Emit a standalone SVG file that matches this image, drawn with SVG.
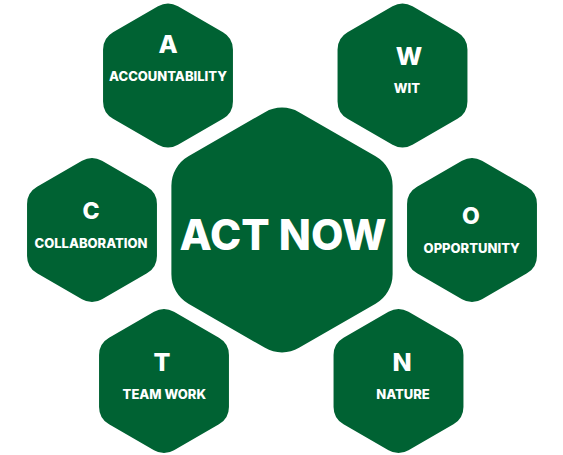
<svg xmlns="http://www.w3.org/2000/svg" width="563" height="455" viewBox="0 0 563 455">
<style>
.hex{fill:#006233}
.t{fill:#ffffff;font-family:Inter,"Open Sans","Liberation Sans",sans-serif;font-weight:800;text-anchor:middle}
.big{font-size:25px}
.lbl{font-size:13px}
.main{font-size:42px}
</style>
<defs>
<path id="hx" d="M-10,-69.2 A20,20 0 0 1 10,-69.2 L54.95,-43.27 A20,20 0 0 1 64.95,-25.95 L64.95,25.95 A20,20 0 0 1 54.95,43.27 L10,69.2 A20,20 0 0 1 -10,69.2 L-54.95,43.27 A20,20 0 0 1 -64.95,25.95 L-64.95,-25.95 A20,20 0 0 1 -54.95,-43.27 Z"/>
</defs>
<rect width="563" height="455" fill="#ffffff"/>
<g id="node-center">
<use href="#hx" class="hex" transform="translate(282,230) scale(1.703)"/>
<text class="t main" x="283" y="250">ACT NOW</text>
</g>
<g id="node-a">
<use href="#hx" class="hex" transform="translate(168,75.5)"/>
<text class="t big" x="168" y="53.3">A</text>
<text class="t lbl" x="168" y="81">ACCOUNTABILITY</text>
</g>
<g id="node-w">
<use href="#hx" class="hex" transform="translate(402.5,75.5)"/>
<text class="t big" x="409" y="65">W</text>
<text class="t lbl" x="407" y="93.3">WIT</text>
</g>
<g id="node-c">
<use href="#hx" class="hex" transform="translate(92,230)"/>
<text class="t" style="font-size:23px" x="91" y="219">C</text>
<text class="t lbl" x="91" y="247.7">COLLABORATION</text>
</g>
<g id="node-o">
<use href="#hx" class="hex" transform="translate(472,230)"/>
<text class="t" style="font-size:23px" x="471" y="224">O</text>
<text class="t lbl" x="471.7" y="253.3">OPPORTUNITY</text>
</g>
<g id="node-t">
<use href="#hx" class="hex" transform="translate(164,381)"/>
<text class="t big" x="162" y="370.7">T</text>
<text class="t lbl" x="164.3" y="399.3">TEAM WORK</text>
</g>
<g id="node-n">
<use href="#hx" class="hex" transform="translate(398.5,381)"/>
<text class="t big" x="402" y="370.7">N</text>
<text class="t lbl" x="403" y="399.3">NATURE</text>
</g>
<g id="connectors"/>
</svg>
